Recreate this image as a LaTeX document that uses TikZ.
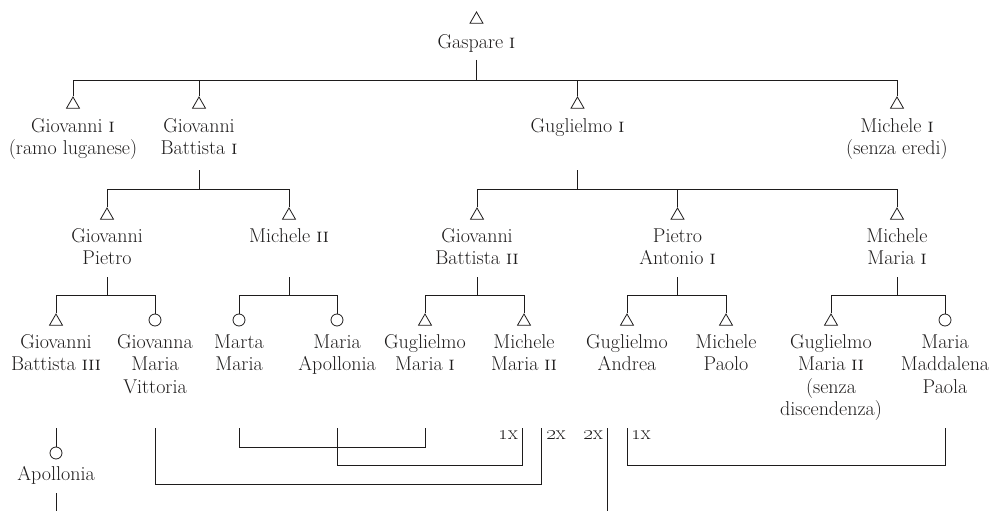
\documentclass[tikz,border=0pt]{standalone}
\usetikzlibrary{shapes.geometric}
\definecolor{ink}{RGB}{30,28,28}
\newcommand\pfont{\fontsize{20}{22.5}\selectfont}
\begin{document}
\begin{tikzpicture}[x=1pt,y=-1pt,
  male/.style={regular polygon, regular polygon sides=3, draw=ink, line width=0.8pt, minimum size=15pt, inner sep=0pt},
  female/.style={circle, draw=ink, line width=0.8pt, minimum size=12pt, inner sep=0pt},
  person/.style={font=\pfont, text=ink, align=center, inner sep=0pt, anchor=north},
  lbl/.style={font=\pfont, text=ink, inner sep=0pt},
  link/.style={draw=ink, line width=1pt}]
\useasboundingbox (0,0) rectangle (993,511);

% generation 1
\node[male] (s-gas) at (476.5,19.5) {};
\node[person] (gas) at (476.5,32.25) {\strut Gaspare \textsc{i}};

% generation 2
\node[male] (s-gio1) at (73,104.5) {};
\node[person] (gio1) at (73,116.25) {\strut Giovanni \textsc{i}\\(ramo luganese)};
\node[male] (s-gb1) at (199,104.5) {};
\node[person] (gb1) at (199,116.25) {\strut Giovanni\\Battista \textsc{i}};
\node[male] (s-gug1) at (577.5,104.5) {};
\node[person] (gug1) at (577.5,116.25) {\strut Guglielmo \textsc{i}};
\node[male] (s-mic1) at (897,104.5) {};
\node[person] (mic1) at (897,116.25) {\strut Michele \textsc{i}\\(senza eredi)};

% generation 3
\node[male] (s-gp) at (107,215.5) {};
\node[person] (gp) at (107,226.25) {\strut Giovanni\\Pietro};
\node[male] (s-m2) at (289,215.5) {};
\node[person] (m2) at (289,226.25) {\strut Michele \textsc{ii}};
\node[male] (s-gb2) at (477,215.5) {};
\node[person] (gb2) at (477,226.25) {\strut Giovanni\\Battista \textsc{ii}};
\node[male] (s-pa1) at (677.5,215.5) {};
\node[person] (pa1) at (677.5,226.25) {\strut Pietro\\Antonio \textsc{i}};
\node[male] (s-mm1) at (897,215.5) {};
\node[person] (mm1) at (897,226.25) {\strut Michele\\Maria \textsc{i}};

% generation 4
\node[male] (s-gb3) at (56,321.5) {};
\node[person] (gb3) at (56,332.25) {\strut Giovanni\\Battista \textsc{iii}};
\node[female] (s-gmv) at (155,320) {};
\node[person] (gmv) at (155,332.25) {\strut Giovanna\\Maria\\Vittoria};
\node[female] (s-mma) at (239,320) {};
\node[person] (mma) at (239,332.25) {\strut Marta\\Maria};
\node[female] (s-mapo) at (337,320) {};
\node[person] (mapo) at (337,332.25) {\strut Maria\\Apollonia};
\node[male] (s-gm1) at (425,321.5) {};
\node[person] (gm1) at (425,332.25) {\strut Guglielmo\\Maria \textsc{i}};
\node[male] (s-mm2) at (524,321.5) {};
\node[person] (mm2) at (524,332.25) {\strut Michele\\Maria \textsc{ii}};
\node[male] (s-ga) at (627,321.5) {};
\node[person] (ga) at (627,332.25) {\strut Guglielmo\\Andrea};
\node[male] (s-mp) at (726,321.5) {};
\node[person] (mp) at (726,332.25) {\strut Michele\\Paolo};
\node[male] (s-gm2) at (831,321.5) {};
\node[person] (gm2) at (831,332.25) {\strut Guglielmo\\Maria \textsc{ii}\\(senza\\discendenza)};
\node[female] (s-mmp) at (945,320) {};
\node[person] (mmp) at (945,332.25) {\strut Maria\\Maddalena\\Paola};

% generation 5
\node[female] (s-apo) at (56,453) {};
\node[person] (apo) at (56,464.25) {\strut Apollonia};

% marriage labels
\node[lbl, anchor=base east] (l1) at (518,439) {\oldstylenums{1}x};
\node[lbl, anchor=base west] (l2) at (546,439) {\oldstylenums{2}x};
\node[lbl, anchor=base east] (l3) at (603,439) {\oldstylenums{2}x};
\node[lbl, anchor=base west] (l4) at (631,439) {\oldstylenums{1}x};

% descent: Gaspare
\draw[link] (s-gas |- 0,60) -- (s-gas |- 0,80);
\draw[link] (s-gio1.90) -- (s-gio1 |- 0,80) -- (s-mic1 |- 0,80) -- (s-mic1.90);
\draw[link] (s-gb1.90) -- (s-gb1 |- 0,80);
\draw[link] (s-gug1.90) -- (s-gug1 |- 0,80);

% descent: Giovanni Battista I
\draw[link] (gb1 |- 0,170) -- (gb1 |- 0,189);
\draw[link] (s-gp.90) -- (s-gp |- 0,189) -- (s-m2 |- 0,189) -- (s-m2.90);

% descent: Guglielmo I
\draw[link] (gug1 |- 0,170) -- (gug1 |- 0,189);
\draw[link] (s-gb2.90) -- (s-gb2 |- 0,189) -- (s-mm1 |- 0,189) -- (s-mm1.90);
\draw[link] (s-pa1.90) -- (s-pa1 |- 0,189);

% descent: generation 3 -> 4
\draw[link] (gp |- 0,277) -- (gp |- 0,295);
\draw[link] (s-gb3.90) -- (s-gb3 |- 0,295) -- (s-gmv |- 0,295) -- (s-gmv.90);
\draw[link] (m2 |- 0,277) -- (m2 |- 0,295);
\draw[link] (s-mma.90) -- (s-mma |- 0,295) -- (s-mapo |- 0,295) -- (s-mapo.90);
\draw[link] (gb2 |- 0,277) -- (gb2 |- 0,295);
\draw[link] (s-gm1.90) -- (s-gm1 |- 0,295) -- (s-mm2 |- 0,295) -- (s-mm2.90);
\draw[link] (pa1 |- 0,277) -- (pa1 |- 0,295);
\draw[link] (s-ga.90) -- (s-ga |- 0,295) -- (s-mp |- 0,295) -- (s-mp.90);
\draw[link] (mm1 |- 0,277) -- (mm1 |- 0,295);
\draw[link] (s-gm2.90) -- (s-gm2 |- 0,295) -- (s-mmp |- 0,295) -- (s-mmp.90);

% marriages
\coordinate (mm2-1) at (522,428);
\coordinate (mm2-2) at (541,428);
\coordinate (ga-2) at (607,428);
\coordinate (ga-1) at (627,428);
\draw[link] (mma |- 0,428) -- (mma |- 0,447) -- (gm1 |- 0,447) -- (gm1 |- 0,428);
\draw[link] (mapo |- 0,428) -- (mapo |- 0,465) -- (mm2-1 |- 0,465) -- (mm2-1);
\draw[link] (gmv |- 0,428) -- (gmv |- 0,484) -- (mm2-2 |- 0,484) -- (mm2-2);
\draw[link] (ga-2) -- (ga-2 |- 0,511);
\draw[link] (ga-1) -- (ga-1 |- 0,465) -- (mmp |- 0,465) -- (mmp |- 0,428);

% Apollonia
\draw[link] (gb3 |- 0,428) -- (s-apo.90);
\draw[link] (apo |- 0,493) -- (apo |- 0,511);
\end{tikzpicture}
\end{document}
